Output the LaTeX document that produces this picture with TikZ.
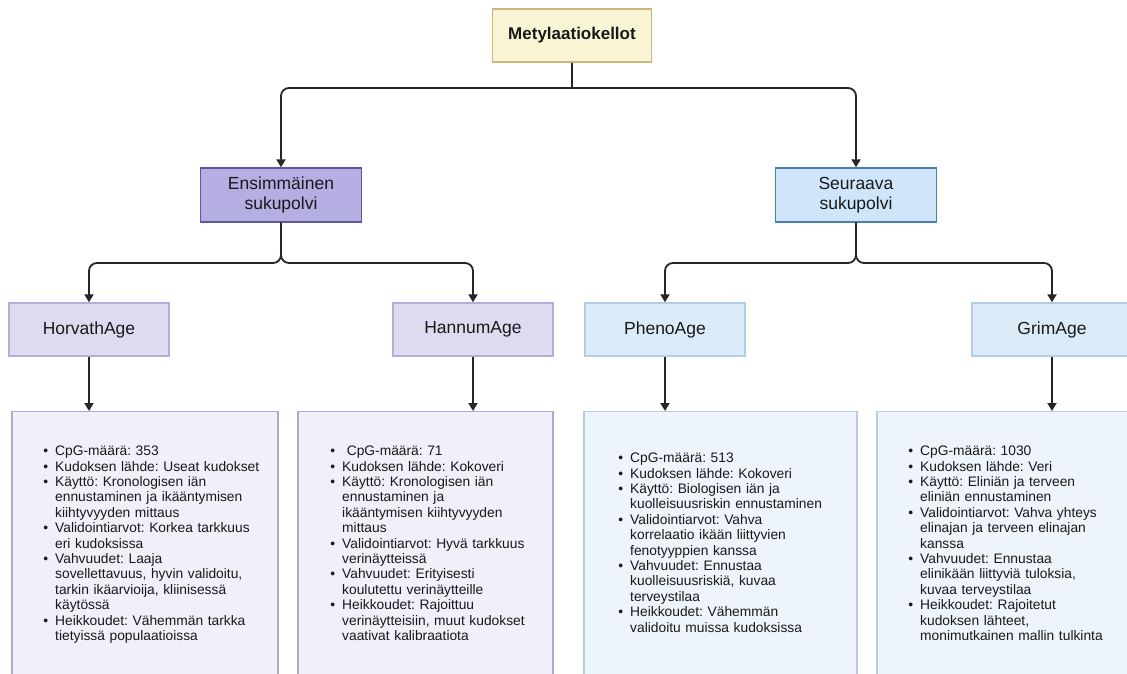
\documentclass[tikz,border=0pt]{standalone}
\usepackage{fontspec}
\setmainfont{Liberation Sans}
\usepackage{enumitem}
\usetikzlibrary{arrows.meta, positioning, calc}
\definecolor{rootFill}{RGB}{249, 245, 212}
\definecolor{rootLine}{RGB}{200, 182, 122}
\definecolor{firstFill}{RGB}{180, 174, 226}
\definecolor{firstLine}{RGB}{91, 87, 160}
\definecolor{nextFill}{RGB}{207, 230, 250}
\definecolor{nextLine}{RGB}{77, 127, 174}
\definecolor{firstSoft}{RGB}{222, 218, 240}
\definecolor{firstSoftLine}{RGB}{179, 173, 218}
\definecolor{nextSoft}{RGB}{220, 235, 248}
\definecolor{nextSoftLine}{RGB}{181, 204, 227}
\definecolor{firstPale}{RGB}{241, 240, 248}
\definecolor{firstPaleLine}{RGB}{173, 168, 212}
\definecolor{nextPale}{RGB}{238, 244, 251}
\definecolor{nextPaleLine}{RGB}{185, 204, 224}
\definecolor{inkText}{RGB}{25, 25, 25}
\frenchspacing
\newcommand{\infolist}[1]{\raggedright\begin{itemize}[nosep, leftmargin=13pt, labelsep=7pt, label={\textbullet}]#1\end{itemize}}

\begin{document}
\begin{tikzpicture}[x=1pt, y=-1pt,
    >={Triangle[width=9pt, length=8pt]},
    box/.style={draw, line width=1.4pt, inner sep=0pt, align=center, text=inkText},
    rootbox/.style={box, fill=rootFill, draw=rootLine, minimum width=159pt, minimum height=53pt,
      font=\fontsize{17}{20}\selectfont\bfseries},
    genbox/.style={box, minimum width=161pt, minimum height=54pt, font=\fontsize{17.5}{20}\selectfont},
    modelbox/.style={box, minimum width=160pt, minimum height=53pt, font=\fontsize{17.5}{20}\selectfont},
    infobox/.style={draw, line width=1.4pt, minimum height=290pt, anchor=north},
    infotext/.style={anchor=north west, inner sep=0pt, text width=260pt, text=inkText,
      font=\fontsize{13.8}{15.4}\selectfont},
    link/.style={line width=1.8pt, black!85, rounded corners=8pt}]
  \clip (0,0) rectangle (1127,674);
  \fill[white] (0,0) rectangle (1127,674);

  % --- root and generations ---
  \node[rootbox] (clocks) at (572, 35.5) {Metylaatiokellot};
  \node[genbox, fill=firstFill, draw=firstLine] (gen1) at (281, 195) {Ensimmäinen\\sukupolvi};
  \node[genbox, fill=nextFill, draw=nextLine] (gen2) at (856, 195) {Seuraava\\sukupolvi};

  % --- clocks ---
  \node[modelbox, fill=firstSoft, draw=firstSoftLine] (horvath) at (89, 329.5) {HorvathAge};
  \node[modelbox, fill=firstSoft, draw=firstSoftLine] (hannum) at (473, 329.5) {HannumAge};
  \node[modelbox, fill=nextSoft, draw=nextSoftLine] (pheno) at (665, 329.5) {PhenoAge};
  \node[modelbox, fill=nextSoft, draw=nextSoftLine] (grim) at (1052, 329.5) {GrimAge};

  % --- info boxes ---
  \node[infobox, fill=firstPale, draw=firstPaleLine, minimum width=266pt] (horvathinfo) at (145, 411) {};
  \node[infobox, fill=firstPale, draw=firstPaleLine, minimum width=255pt] (hannuminfo) at (425.5, 411) {};
  \node[infobox, fill=nextPale, draw=nextPaleLine, minimum width=273pt] (phenoinfo) at (720.5, 411) {};
  \node[infobox, fill=nextPale, draw=nextPaleLine, minimum width=270pt] (griminfo) at (1012, 411) {};

  \node[infotext] (horvathtext) at (42, 440) {\infolist{
    \item CpG-määrä: 353
    \item Kudoksen lähde: Useat kudokset
    \item Käyttö: Kronologisen iän\newline ennustaminen ja ikääntymisen\newline kiihtyvyyden mittaus
    \item Validointiarvot: Korkea tarkkuus\newline eri kudoksissa
    \item Vahvuudet: Laaja\newline sovellettavuus, hyvin validoitu,\newline tarkin ikäarvioija, kliinisessä\newline käytössä
    \item Heikkoudet: Vähemmän tarkka\newline tietyissä populaatioissa}};
  \node[infotext] (hannumtext) at (329, 440) {\infolist{
    \item \ CpG-määrä: 71
    \item Kudoksen lähde: Kokoveri
    \item Käyttö: Kronologisen iän\newline ennustaminen ja\newline ikääntymisen kiihtyvyyden\newline mittaus
    \item Validointiarvot: Hyvä tarkkuus\newline verinäytteissä
    \item Vahvuudet: Erityisesti\newline koulutettu verinäytteille
    \item Heikkoudet: Rajoittuu\newline verinäytteisiin, muut kudokset\newline vaativat kalibraatiota}};
  \node[infotext] (phenotext) at (617, 447) {\infolist{
    \item CpG-määrä: 513
    \item Kudoksen lähde: Kokoveri
    \item Käyttö: Biologisen iän ja\newline kuolleisuusriskin ennustaminen
    \item Validointiarvot: Vahva\newline korrelaatio ikään liittyvien\newline fenotyyppien kanssa
    \item Vahvuudet: Ennustaa\newline kuolleisuusriskiä, kuvaa\newline terveystilaa
    \item Heikkoudet: Vähemmän\newline validoitu muissa kudoksissa}};
  \node[infotext] (grimtext) at (907, 440) {\infolist{
    \item CpG-määrä: 1030
    \item Kudoksen lähde: Veri
    \item Käyttö: Eliniän ja terveen\newline eliniän ennustaminen
    \item Validointiarvot: Vahva yhteys\newline elinajan ja terveen elinajan\newline kanssa
    \item Vahvuudet: Ennustaa\newline elinikään liittyviä tuloksia,\newline kuvaa terveystilaa
    \item Heikkoudet: Rajoitetut\newline kudoksen lähteet,\newline monimutkainen mallin tulkinta}};

  % --- connectors ---
  \coordinate (rootjoin) at (572, 88);
  \coordinate (gen1join) at (281, 263);
  \coordinate (gen2join) at (856, 263);
  \draw[link] (clocks.south) -- (rootjoin);
  \draw[link, ->] (rootjoin) -| (gen1.north);
  \draw[link, ->] (rootjoin) -| (gen2.north);
  \draw[link, ->] (gen1.south) -- (gen1join) -| (horvath.north);
  \draw[link, ->] (gen1.south) -- (gen1join) -| (hannum.north);
  \draw[link, ->] (gen2.south) -- (gen2join) -| (pheno.north);
  \draw[link, ->] (gen2.south) -- (gen2join) -| (grim.north);
  \draw[link, ->] (horvath.south) -- (horvath.south |- horvathinfo.north);
  \draw[link, ->] (hannum.south) -- (hannum.south |- hannuminfo.north);
  \draw[link, ->] (pheno.south) -- (pheno.south |- phenoinfo.north);
  \draw[link, ->] (grim.south) -- (grim.south |- griminfo.north);
\end{tikzpicture}
\end{document}
